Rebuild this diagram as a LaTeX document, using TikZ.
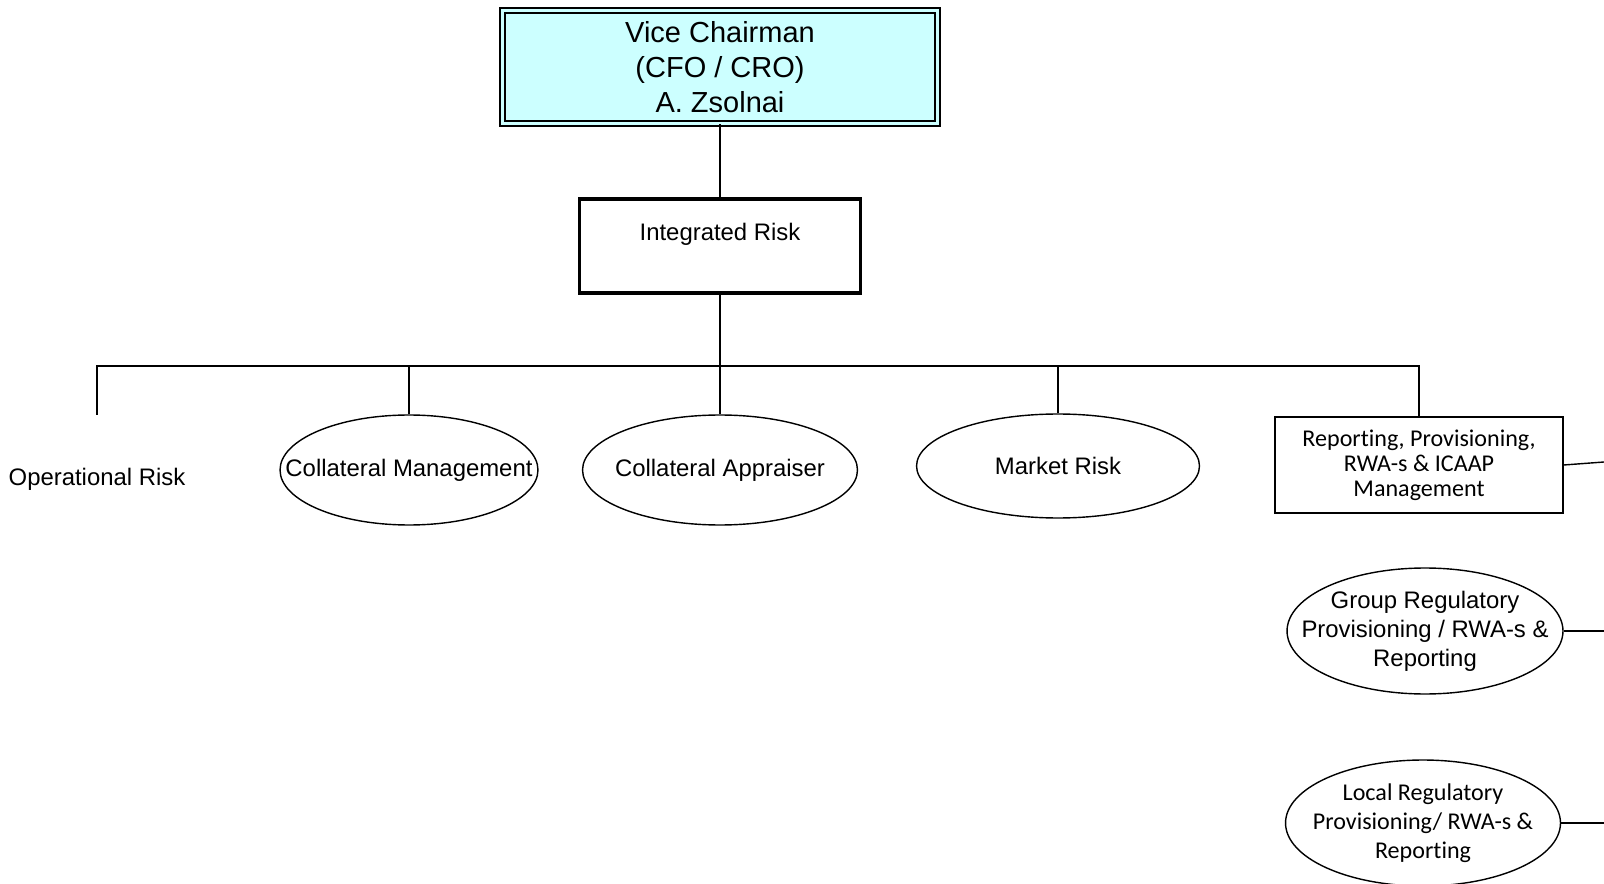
\documentclass[tikz,border=0pt]{standalone}
\usepackage{fontspec}
\setmainfont{Liberation Sans}
\newfontfamily\calibri[Ligatures=NoCommon]{Carlito}
\usetikzlibrary{shapes.geometric}
\definecolor{vicecyan}{HTML}{CCFFFF}

\begin{document}
\begin{tikzpicture}[x=0.02cm, y=-0.02cm, line width=0.8pt,
    unit/.style={draw, ellipse, inner xsep=-1cm, inner ysep=-2pt, align=center, font=\fontsize{13.6}{16.5}\selectfont},
    plain/.style={font=\fontsize{13.6}{16.5}\selectfont}]
        \useasboundingbox (0,0) rectangle (1604,884);
        % top of the tree
        \node[draw, double, double=vicecyan, double distance=2pt, fill=vicecyan, minimum width=8.7cm, minimum height=2.26cm, align=center, font=\fontsize{16.5}{19.9}\selectfont] (vice) at (720,67) {Vice Chairman\\(CFO / CRO)\\A. Zsolnai};
        \node[draw, line width=1.9pt, minimum width=5.62cm, minimum height=1.88cm, align=center, plain] (integ) at (720,246) {Integrated Risk\\~};
        % units below
        \node[plain] (oprisk) at (97,479) {Operational Risk};
        \node[unit, minimum width=5.16cm, minimum height=2.2cm] (colmgmt) at (409,470) {Collateral Management};
        \node[unit, minimum width=5.5cm, minimum height=2.2cm] (colapp) at (720,470) {Collateral Appraiser};
        \node[unit, minimum width=5.66cm, minimum height=2.08cm] (market) at (1058,466) {Market Risk};
        \node[draw, minimum width=5.76cm, minimum height=1.92cm, align=center, font=\calibri\fontsize{13.7}{14.2}\selectfont] (report) at (1419,465) {Reporting, Provisioning,\\RWA-s \& ICAAP\\Management};
        \node[unit, minimum width=5.52cm, minimum height=2.52cm] (grpreg) at (1425,631) {Group Regulatory\\Provisioning / RWA-s \&\\Reporting};
        \node[unit, minimum width=5.5cm, minimum height=2.52cm, font=\calibri\fontsize{13.7}{16.5}\selectfont] (locreg) at (1423,823) {Local Regulatory\\Provisioning/ RWA-s \&\\Reporting};
        % bus and free ends
        \coordinate (opend) at (97,415);
        \coordinate (busL) at (97,366);
        \coordinate (busR) at (1419,366);
        \coordinate (edgeA) at (1604,462);
        \coordinate (edgeB) at (1604,631);
        \coordinate (edgeC) at (1604,823);
        \draw (vice) -- (integ);
        \draw (integ) -- (colapp);
        \draw (opend) -- (busL) -- (busR) -- (report.north);
        \draw (colmgmt) -- (colmgmt |- busL);
        \draw (market) -- (market |- busL);
        \draw (report.east) -- (edgeA);
        \draw (grpreg.east) -- (edgeB);
        \draw (locreg.east) -- (edgeC);
    \end{tikzpicture}
\end{document}
